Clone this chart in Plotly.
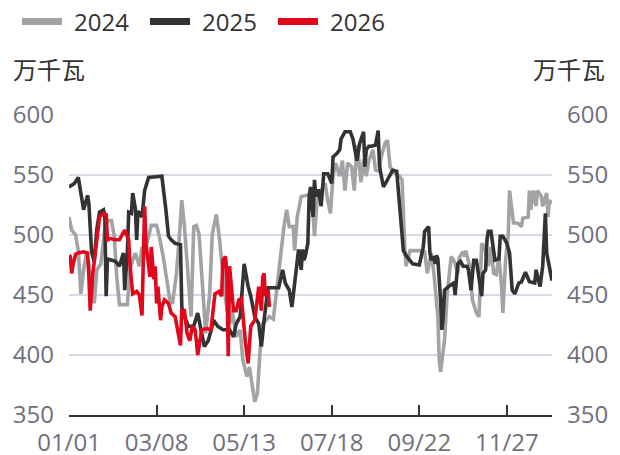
import plotly.graph_objects as go

# ---- data (day of year index 0..364, value in 万千瓦) ----
days_2024 = [0, 2, 5, 7, 9, 11, 13, 15, 17, 19, 21, 24, 27, 29, 32, 34, 36, 38, 44, 46, 48, 50, 53, 55, 57, 60,
             62, 66, 68, 71, 73, 76, 78, 81, 83, 85, 87, 90, 92, 94, 96, 98, 101, 103, 106, 108, 111, 113, 116,
             118, 121, 123, 126, 129, 131, 134, 136, 138, 140, 142, 144, 146, 149, 151, 154, 157, 160, 162, 164,
             166, 169, 170, 172, 175, 179, 183, 185, 187, 190, 193, 195, 197, 199, 201, 204, 206, 208, 210, 213,
             215, 217, 218, 220, 222, 224, 226, 229, 231, 234, 235, 238, 240, 242, 244, 249, 251, 253, 254, 257,
             264, 268, 270, 273, 275, 278, 279, 280, 283, 285, 288, 290, 293, 294, 297, 298, 299, 302, 304, 307,
             309, 311, 313, 316, 318, 320, 322, 324, 326, 327, 329, 331, 332, 335, 338, 341, 342, 346, 347, 348,
             350, 352, 353, 356, 357, 360, 361, 362, 364]
vals_2024 = [515, 504, 500, 487, 451, 471, 484, 476, 462, 443, 471, 476, 505, 512, 512, 500, 465, 442, 442, 471,
             479, 485, 474, 490, 485, 500, 508, 508, 499, 482, 468, 446, 443, 468, 496, 529, 507, 462, 432, 507,
             508, 501, 457, 418, 451, 501, 517, 501, 468, 446, 426, 437, 415, 421, 396, 382, 390, 375, 361, 368,
             404, 426, 429, 432, 430, 460, 490, 507, 521, 507, 507, 487, 515, 532, 533, 535, 499, 529, 537, 543,
             529, 518, 549, 560, 549, 562, 537, 560, 557, 537, 575, 567, 544, 563, 549, 562, 571, 554, 553, 564,
             576, 579, 557, 553, 549, 546, 490, 474, 487, 487, 486, 468, 485, 468, 432, 396, 386, 412, 451, 482,
             479, 468, 481, 486, 482, 487, 474, 446, 435, 432, 493, 490, 474, 490, 468, 467, 482, 457, 435, 479,
             499, 537, 510, 510, 507, 514, 515, 537, 521, 537, 524, 537, 532, 524, 535, 515, 529, 526]

days_2025 = [0, 4, 7, 9, 11, 13, 14, 15, 17, 19, 21, 23, 26, 27, 28, 29, 35, 38, 41, 42, 44, 45, 47, 48, 50, 51,
             52, 55, 57, 60, 70, 73, 75, 77, 80, 84, 85, 87, 90, 94, 97, 100, 102, 105, 109, 112, 116, 121, 124,
             126, 129, 132, 135, 137, 140, 143, 145, 147, 150, 158, 161, 163, 166, 168, 170, 171, 173, 175, 176,
             177, 178, 180, 181, 182, 184, 185, 186, 188, 190, 192, 195, 198, 199, 202, 204, 205, 208, 212, 214,
             217, 219, 222, 223, 224, 226, 228, 231, 233, 234, 237, 240, 244, 247, 249, 251, 252, 254, 259, 264,
             267, 268, 271, 272, 273, 275, 276, 277, 278, 280, 281, 282, 283, 286, 290, 291, 293, 295, 297, 300,
             301, 303, 305, 307, 311, 312, 314, 315, 316, 318, 321, 324, 325, 327, 330, 332, 334, 336, 339, 341,
             344, 347, 351, 352, 355, 357, 359, 360, 362, 364]
vals_2025 = [540, 543, 548, 532, 521, 529, 533, 526, 486, 478, 505, 519, 521, 515, 449, 480, 478, 474, 485, 454,
             486, 519, 518, 535, 522, 496, 520, 515, 537, 548, 549, 521, 499, 496, 493, 492, 440, 432, 424, 424,
             435, 418, 407, 412, 429, 424, 421, 421, 415, 426, 432, 476, 457, 449, 432, 426, 407, 429, 456, 456,
             471, 460, 454, 440, 457, 468, 488, 471, 488, 479, 482, 493, 532, 540, 515, 546, 532, 538, 524, 551,
             551, 543, 565, 568, 571, 580, 586, 586, 580, 562, 576, 586, 557, 571, 574, 574, 575, 587, 557, 540,
             546, 554, 553, 526, 504, 487, 483, 476, 475, 490, 503, 507, 485, 479, 482, 476, 483, 480, 446, 421,
             432, 454, 457, 460, 450, 476, 478, 474, 474, 471, 454, 479, 479, 449, 468, 471, 496, 503, 503, 479,
             480, 499, 499, 493, 485, 454, 451, 460, 461, 469, 461, 460, 471, 457, 474, 518, 485, 474, 462]

days_2026 = [0, 1, 2, 3, 5, 7, 11, 14, 15, 16, 18, 21, 23, 26, 28, 29, 31, 35, 38, 42, 45, 46, 48, 51, 53, 55,
             56, 57, 58, 61, 62, 64, 65, 66, 67, 69, 70, 72, 75, 77, 80, 82, 84, 85, 87, 89, 91, 93, 95, 96, 97,
             100, 104, 107, 110, 113, 115, 116, 118, 119, 120, 121, 123, 124, 126, 128, 130, 131, 133, 135, 136,
             137, 140, 141, 143, 145, 146, 147, 148, 150, 151]
vals_2026 = [483, 482, 468, 475, 484, 485, 486, 485, 465, 437, 468, 496, 515, 518, 517, 496, 497, 496, 496, 504,
             496, 474, 451, 453, 450, 433, 485, 524, 493, 465, 490, 463, 474, 443, 457, 429, 440, 446, 443, 435,
             432, 418, 408, 437, 437, 418, 412, 424, 421, 412, 400, 421, 422, 421, 451, 453, 449, 479, 482, 465,
             399, 474, 449, 437, 437, 446, 447, 432, 410, 393, 412, 424, 429, 437, 457, 437, 465, 468, 449, 454,
             440]

x_ticks = [0, 66, 132, 198, 264, 330, 364]
x_tick_labels = ['01/01', '03/08', '05/13', '07/18', '09/22', '11/27', '']
y_ticks = [350, 400, 450, 500, 550, 600]
unit_label = '万千瓦'

series = [
    ('2024', days_2024, vals_2024, '#a2a3a5'),
    ('2025', days_2025, vals_2025, '#333333'),
    ('2026', days_2026, vals_2026, '#e0081a'),
]

FONT = 'Open Sans, Noto Sans CJK SC, sans-serif'
TICK_COLOR = '#6f6f7d'

# page body has an 8px margin: the figure sits at (8, 8) in the window
OFF = 8
W, H = 620 - OFF, 455 - OFF
L, R, T, B = 69 - OFF, 620 - 552, 115 - OFF, 455 - 415
PW, PH = W - L - R, H - T - B


def px(x):
    """window x pixel -> paper coordinate"""
    return (x - OFF - L) / PW


def py(y):
    """window y pixel -> paper coordinate"""
    return (H - B - (y - OFF)) / PH


fig = go.Figure()
for name, xs, ys, color in series:
    fig.add_trace(go.Scatter(x=xs, y=ys, mode='lines', name=name, showlegend=False,
                             line=dict(color=color, width=3.6), hoverinfo='skip'))
# right-axis helper trace
fig.add_trace(go.Scatter(x=[None], y=[None], yaxis='y2', showlegend=False, hoverinfo='skip'))

# custom legend (line symbol + text)
shapes, annotations = [], []
leg_x0 = [22, 150, 278]
for (name, _, _, color), x0 in zip(series, leg_x0):
    shapes.append(dict(type='line', xref='paper', yref='paper', x0=px(x0), x1=px(x0 + 40),
                       y0=py(21.5), y1=py(21.5), line=dict(color=color, width=7)))
    annotations.append(dict(text=name, xref='paper', yref='paper', x=px(x0 + 50), y=py(21.5),
                            xanchor='left', yanchor='middle', showarrow=False,
                            font=dict(size=24, color='#333333')))

annotations.append(dict(text=unit_label, xref='paper', yref='paper', x=px(11), y=py(69),
                        xanchor='left', yanchor='middle', showarrow=False,
                        font=dict(size=24, color='#333333')))
annotations.append(dict(text=unit_label, xref='paper', yref='paper', x=px(607), y=py(69),
                        xanchor='right', yanchor='middle', showarrow=False,
                        font=dict(size=24, color='#333333')))

fig.update_layout(
    width=W, height=H,
    margin=dict(l=L, r=R, t=T, b=B, autoexpand=False),
    paper_bgcolor='white', plot_bgcolor='white',
    font=dict(family=FONT, size=24, color='#333333'),
    showlegend=False,
    xaxis=dict(range=[0, 364], tickvals=x_ticks, ticktext=x_tick_labels,
               ticks='inside', ticklen=10, tickwidth=1.5, tickcolor='#333333',
               showline=True, linecolor='#333333', linewidth=1.5, showgrid=False, zeroline=False,
               ticklabelstandoff=5, tickfont=dict(size=24, color=TICK_COLOR)),
    yaxis=dict(range=[350, 600], tickvals=y_ticks, showgrid=True, gridcolor='#d6d9e6', gridwidth=1.5,
               zeroline=False, showline=False, ticks='', ticklabelstandoff=14,
               tickfont=dict(size=24, color=TICK_COLOR)),
    yaxis2=dict(range=[350, 600], tickvals=y_ticks, overlaying='y', side='right', showgrid=False,
                zeroline=False, showline=False, ticks='', ticklabelstandoff=14,
                tickfont=dict(size=24, color=TICK_COLOR)),
    shapes=shapes,
    annotations=annotations,
)

fig.write_html('out.html')
